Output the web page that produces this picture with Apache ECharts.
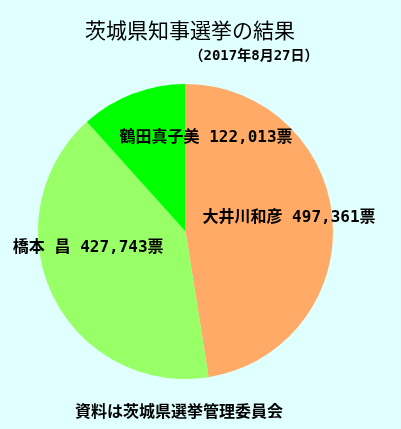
<!DOCTYPE html>
<html><head><meta charset="utf-8">
<script src="https://cdn.jsdelivr.net/npm/echarts@6/dist/echarts.min.js"></script>
<style>html,body{margin:0;padding:0;background:#E0FFFF;}#c{width:401px;height:429px;}</style>
</head><body><div id="c"></div>
<script>
const candidates = ['大井川和彦', '橋本 昌', '鶴田真子美'];
const votes = [497361, 427743, 122013];
const colors = ['#FFAA66', '#99FF66', '#00FF00'];
const labelOffsets = [[27, -8], [-28, -17], [48, -22]];
const font = '"Noto Sans CJK JP", sans-serif';
const monoFont = '"DejaVu Sans Mono", "Noto Sans CJK JP", sans-serif';

const chart = echarts.init(document.getElementById('c'));
chart.setOption({
  backgroundColor: '#E0FFFF',
  animation: false,
  title: [
    { text: '茨城県知事選挙の結果', left: 185, top: 15, textAlign: 'center',
      textStyle: { fontFamily: font, fontSize: 21, fontWeight: 'normal', color: '#000' } },
    { text: '（2017年8月27日）', left: 249, top: 44, textAlign: 'center',
      textStyle: { fontFamily: monoFont, fontSize: 14, fontWeight: 'bold', color: '#000' } },
    { text: '資料は茨城県選挙管理委員会', left: 174, top: 398, textAlign: 'center',
      textStyle: { fontFamily: font, fontSize: 16, fontWeight: 'bold', color: '#000' } }
  ],
  series: [{
    type: 'pie',
    center: [185.5, 231.5],
    radius: [0, 147.5],
    startAngle: 90,
    clockwise: true,
    silent: true,
    itemStyle: { borderWidth: 0 },
    label: {
      position: 'inside',
      fontFamily: monoFont, fontSize: 16, fontWeight: 'bold', color: '#000',
      formatter: p => p.name + ' ' + p.value.toLocaleString('en-US') + '票'
    },
    labelLine: { show: false },
    data: candidates.map((n, i) => ({
      name: n, value: votes[i],
      itemStyle: { color: colors[i] },
      label: { offset: labelOffsets[i] }
    }))
  }]
});
</script></body></html>
